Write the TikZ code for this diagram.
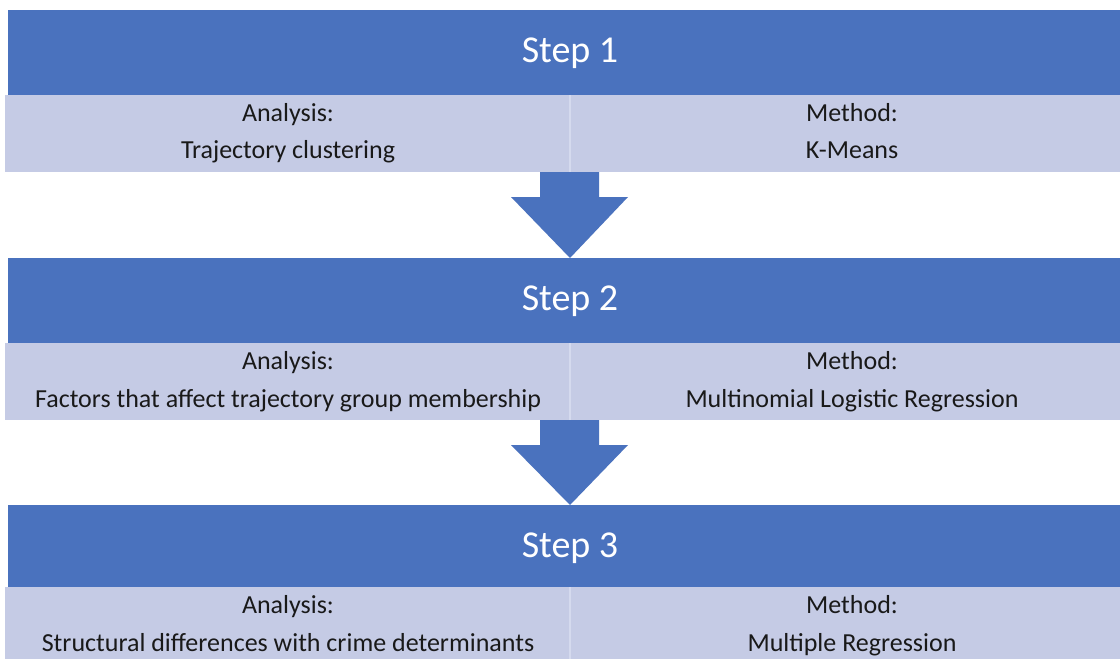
\documentclass[tikz,border=0pt]{standalone}
\usepackage{fontspec}
\setmainfont{Carlito}
\usetikzlibrary{calc}
\definecolor{dkblue}{HTML}{4A72BE}
\definecolor{ltblue}{HTML}{C5CBE5}
\definecolor{divline}{HTML}{D5DAEE}
\begin{document}
\begin{tikzpicture}[x=1pt,y=-1pt,
  header/.style={fill=dkblue, inner sep=0pt, outer sep=0pt, anchor=north west, minimum width=1112pt, minimum height=85pt},
  rowcell/.style={fill=ltblue, inner sep=0pt, outer sep=0pt, anchor=north west, minimum height=77pt},
  htext/.style={text=white, font=\fontsize{38}{44}\selectfont, anchor=base, inner sep=0pt},
  ctext/.style={text=black!90, font=\fontsize{26}{30}\selectfont, anchor=base, inner sep=0pt},
  bigarrow/.style={fill=dkblue, draw=none}
]
\useasboundingbox (0,0) rectangle (1120,659);
\fill[white] (0,0) rectangle (1120,659);

% ---------- Step 1 ----------
\node[header] (h1) at (8,10) {};
\node[htext] (h1t) at (570,62.5) {Step 1};
\node[rowcell, minimum width=565pt] (l1) at (5,95) {};
\node[rowcell, minimum width=550pt] (r1) at (570,95) {};
\draw[divline, line width=1.2pt] (l1.north east) -- (l1.south east);
\node[ctext] (a1) at (288,121) {Analysis:};
\node[ctext] (a1b) at (288,158.5) {Trajectory clustering};
\node[ctext] (m1) at (852,121) {Method:};
\node[ctext] (m1b) at (852,158.5) {K-Means};

% ---------- Step 2 ----------
\node[header] (h2) at (8,258) {};
\node[htext] (h2t) at (570,310.5) {Step 2};
\node[rowcell, minimum width=565pt] (l2) at (5,343) {};
\node[rowcell, minimum width=550pt] (r2) at (570,343) {};
\draw[divline, line width=1.2pt] (l2.north east) -- (l2.south east);
\node[ctext] (a2) at (288,369) {Analysis:};
\node[ctext] (a2b) at (288,407) {Factors that affect trajectory group membership};
\node[ctext] (m2) at (852,369) {Method:};
\node[ctext] (m2b) at (852,407) {Multinomial Logistic Regression};

% ---------- Step 3 ----------
\node[header, minimum height=82pt] (h3) at (8,505) {};
\node[htext] (h3t) at (570,557.5) {Step 3};
\node[rowcell, minimum width=565pt, minimum height=80pt] (l3) at (5,587) {};
\node[rowcell, minimum width=550pt, minimum height=80pt] (r3) at (570,587) {};
\draw[divline, line width=1.2pt] (l3.north east) -- (l3.south east);
\node[ctext] (a3) at (288,613) {Analysis:};
\node[ctext] (a3b) at (288,651) {Structural differences with crime determinants};
\node[ctext] (m3) at (852,613) {Method:};
\node[ctext] (m3b) at (852,651) {Multiple Regression};

% ---------- Arrows ----------
\fill[bigarrow] ($(l1.south east)+(-30,0)$) -- ($(l1.south east)+(29,0)$)
  -- ($(l1.south east)+(29,25)$) -- ($(l1.south east)+(58,25)$)
  -- (l1.south east |- h2.north) coordinate (tip1)
  -- ($(l1.south east)+(-59,25)$) -- ($(l1.south east)+(-30,25)$) -- cycle;
\fill[bigarrow] ($(l2.south east)+(-30,0)$) -- ($(l2.south east)+(29,0)$)
  -- ($(l2.south east)+(29,25)$) -- ($(l2.south east)+(58,25)$)
  -- (l2.south east |- h3.north) coordinate (tip2)
  -- ($(l2.south east)+(-59,25)$) -- ($(l2.south east)+(-30,25)$) -- cycle;
\end{tikzpicture}
\end{document}
